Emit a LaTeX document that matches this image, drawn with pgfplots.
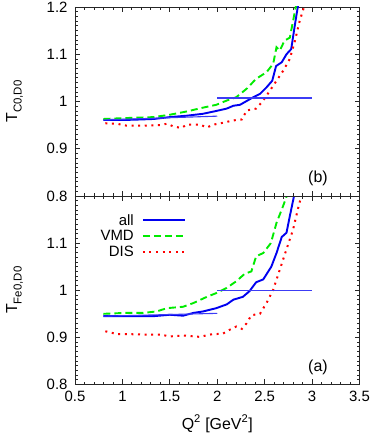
\documentclass[border=0pt]{standalone}
\usepackage{fontspec}
\setmainfont{Liberation Sans}
\usepackage{pgfplots}
\pgfplotsset{compat=1.18}
\definecolor{cblue}{RGB}{0,0,240}
\definecolor{cthin}{RGB}{60,60,245}
\definecolor{cgreen}{RGB}{0,235,0}
\definecolor{cred}{RGB}{255,0,0}
\pgfplotsset{
  common/.style={
    scale only axis, width=284.5bp,
    xmin=0.5, xmax=3.5, ymin=0.8, ymax=1.2,
    xtick={0.5,1,1.5,2,2.5,3,3.5},
    ytick={0.8,0.9,1,1.1,1.2},
    minor x tick num=4, minor y tick num=9,
    tick align=inside, xtick pos=both, ytick pos=both,
    major tick length=5bp, minor tick length=2.6bp,
    axis line style={black!85, line width=0.9bp},
    every tick/.style={black!85, line width=0.8bp},
    /pgf/number format/assume math mode=true,
    tick label style={font=\fontsize{15}{18}\selectfont},
    yticklabel style={xshift=-4bp},
    label style={font=\fontsize{16}{19}\selectfont},
  },
  allst/.style={cblue, line width=1.9bp, line join=round},
  vmdst/.style={cgreen, line width=1.9bp, dash pattern=on 7bp off 4bp},
  disst/.style={cred, line width=2bp, dash pattern=on 2bp off 4.6bp},
}
\begin{document}
\begin{tikzpicture}
\useasboundingbox (-75bp,-53.5bp) rectangle (299bp,384.5bp);
% bottom panel (a)
\begin{axis}[common, at={(0,0)}, anchor=south west, height=188.5bp,
  yticklabels={0.8,0.9,1,1.1,{}},
  xticklabel style={yshift=-3bp},
  xlabel={Q\textsuperscript{2} [GeV\textsuperscript{2}]},
  xlabel style={at={(axis description cs:0.5,0)}, anchor=north, yshift=-27bp},
  ylabel={T\raisebox{-0.55ex}{\fontsize{11.5}{12}\selectfont Fe0,D0}},
  ylabel style={at={(axis description cs:-0.212,0.5)}, anchor=center},
  legend plot pos=right, legend cell align=right,
  legend image code/.code={\draw[#1] (0bp,0bp) -- (42bp,0bp);},
  legend style={at={(axis description cs:0.39,0.915)}, anchor=north east,
    draw=none, fill=none, inner sep=0pt, column sep=6bp, row sep=0bp,
    font=\fontsize{15}{16}\selectfont},
]
\addplot[allst] coordinates {(0.80,0.945)(1.04,0.945)(1.33,0.945)(1.50,0.948)(1.64,0.946)(1.75,0.952)(1.85,0.955)(1.99,0.962)(2.10,0.970)(2.17,0.980)(2.27,0.986)(2.34,0.998)(2.41,1.017)(2.485,1.023)(2.57,1.050)(2.625,1.079)(2.68,1.113)(2.73,1.122)(2.765,1.157)(2.82,1.210)};
\addlegendentry{all}
\addplot[vmdst] coordinates {(0.80,0.950)(1.04,0.952)(1.22,0.952)(1.36,0.955)(1.47,0.962)(1.64,0.965)(1.75,0.973)(1.89,0.986)(1.99,0.994)(2.10,1.005)(2.20,1.019)(2.29,1.035)(2.36,1.040)(2.41,1.072)(2.485,1.079)(2.565,1.100)(2.625,1.143)(2.695,1.179)(2.75,1.210)};
\addlegendentry{VMD}
\addplot[disst] coordinates {(0.82,0.913)(0.94,0.907)(1.04,0.907)(1.22,0.906)(1.40,0.906)(1.50,0.902)(1.64,0.904)(1.82,0.901)(1.92,0.906)(2.06,0.908)(2.13,0.916)(2.20,0.923)(2.26,0.918)(2.31,0.930)(2.36,0.947)(2.45,0.950)(2.52,0.973)(2.59,1.001)(2.66,1.044)(2.73,1.087)(2.80,1.129)(2.85,1.172)(2.90,1.210)};
\addlegendentry{DIS}
\addplot[cthin, line width=1.1bp, forget plot] coordinates {(0.8,0.945)(2.0,0.951)};
\addplot[cthin, line width=1.1bp, forget plot] coordinates {(2.0,1.0)(3.0,1.0)};
\node[font=\fontsize{16}{19}\selectfont] at (rel axis cs:0.854,0.09) {(a)};
\end{axis}
% top panel (b)
\begin{axis}[common, at={(0,188.5bp)}, anchor=south west, height=189bp,
  xticklabels={},
  ylabel={T\raisebox{-0.55ex}{\fontsize{11.5}{12}\selectfont C0,D0}},
  ylabel style={at={(axis description cs:-0.212,0.5)}, anchor=center},
]
\addplot[allst] coordinates {(0.80,0.961)(0.90,0.961)(1.04,0.961)(1.20,0.962)(1.33,0.963)(1.50,0.967)(1.68,0.970)(1.85,0.974)(1.99,0.980)(2.10,0.985)(2.17,0.991)(2.24,0.993)(2.31,1.001)(2.38,1.009)(2.45,1.016)(2.52,1.030)(2.58,1.044)(2.62,1.075)(2.68,1.083)(2.73,1.100)(2.78,1.111)(2.82,1.164)(2.86,1.213)};
\addplot[vmdst] coordinates {(0.80,0.963)(1.04,0.965)(1.33,0.967)(1.50,0.972)(1.68,0.979)(1.85,0.987)(1.99,0.993)(2.10,1.002)(2.20,1.009)(2.31,1.027)(2.41,1.048)(2.52,1.062)(2.59,1.080)(2.625,1.115)(2.66,1.108)(2.71,1.129)(2.765,1.135)(2.80,1.171)(2.84,1.213)};
\addplot[disst] coordinates {(0.82,0.954)(0.94,0.953)(1.04,0.949)(1.22,0.949)(1.40,0.950)(1.47,0.953)(1.54,0.947)(1.62,0.944)(1.68,0.951)(1.82,0.951)(1.89,0.945)(1.96,0.951)(2.06,0.955)(2.17,0.960)(2.26,0.962)(2.31,0.981)(2.41,0.985)(2.485,1.002)(2.555,1.023)(2.625,1.044)(2.695,1.065)(2.765,1.090)(2.82,1.129)(2.87,1.171)(2.924,1.206)};
\addplot[cthin, line width=1.1bp, forget plot] coordinates {(0.8,0.961)(2.0,0.969)};
\addplot[cthin, line width=1.1bp, forget plot] coordinates {(2.0,1.0075)(3.0,1.0075)};
\node[font=\fontsize{16}{19}\selectfont] at (rel axis cs:0.854,0.095) {(b)};
\end{axis}
\end{tikzpicture}
\end{document}
